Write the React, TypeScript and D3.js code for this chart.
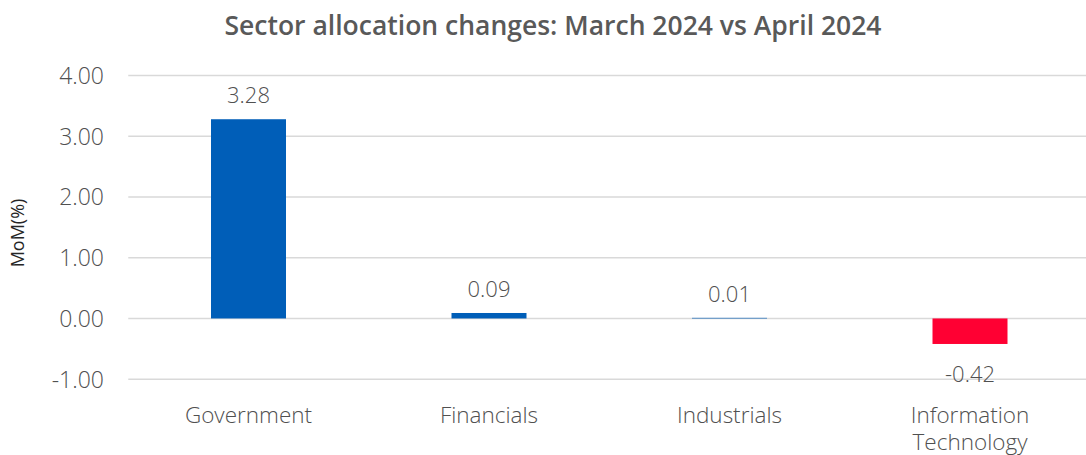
import React from "react";
import * as d3 from "d3";

const categories = ["Government", "Financials", "Industrials", "Information Technology"];
const values = [3.28, 0.09, 0.01, -0.42];
const yTicks = [-1, 0, 1, 2, 3, 4];
const title = "Sector allocation changes: March 2024 vs April 2024";
const yTitle = "MoM(%)";

const W = 1086;
const H = 455;
const left = 128.25;
const right = 1090.25;
const font = "'Open Sans', sans-serif";
const textColor = "#595959";
const fmt = (v: number) => v.toFixed(2);

export default function App() {
  const x = d3.scaleBand<string>().domain(categories).range([left, right]).paddingInner(0).paddingOuter(0);
  const y = d3.scaleLinear().domain([-1, 4]).range([379.2, 75.5]);
  const barW = 75;
  return (
    <svg width={W} height={H} style={{ position: "absolute", left: 0, top: 0 }} fontFamily={font}>
      <text x={553} y={35} textAnchor="middle" fontSize={26.5} fontWeight={600} fill={textColor}>{title}</text>
      {yTicks.map((t) => (
        <g key={t}>
          <line x1={left} x2={W} y1={y(t)} y2={y(t)} stroke="#d9d9d9" strokeWidth={1.5} />
          <text x={104} y={y(t) + 8.5} textAnchor="end" fontSize={23} fontWeight={300} fill="#505050">{fmt(t)}</text>
        </g>
      ))}
      <text transform={`translate(24,${233}) rotate(-90)`} textAnchor="middle" fontSize={18} fill="#262626">{yTitle}</text>
      {categories.map((c, i) => {
        const v = values[i];
        const cx = (x(c) as number) + x.bandwidth() / 2;
        const y0 = y(0);
        const y1 = y(v);
        const top = Math.min(y0, y1);
        const h = Math.abs(y1 - y0);
        const color = v >= 0 ? "#005EB8" : "#FF0033";
        const labelY = v >= 0 ? top - 16 : top + h + 38;
        const words = c === "Information Technology" ? ["Information", "Technology"] : [c];
        return (
          <g key={c}>
            <rect x={cx - barW / 2} y={top} width={barW} height={h} fill={color} />
            <text x={cx} y={labelY} textAnchor="middle" fontSize={22} fontWeight={300} fill="#505050">{fmt(v)}</text>
            {words.map((w, j) => (
              <text key={w} x={cx} y={423 + j * 26.5} textAnchor="middle" fontSize={22.5} fontWeight={300} fill="#505050">{w}</text>
            ))}
          </g>
        );
      })}
    </svg>
  );
}
